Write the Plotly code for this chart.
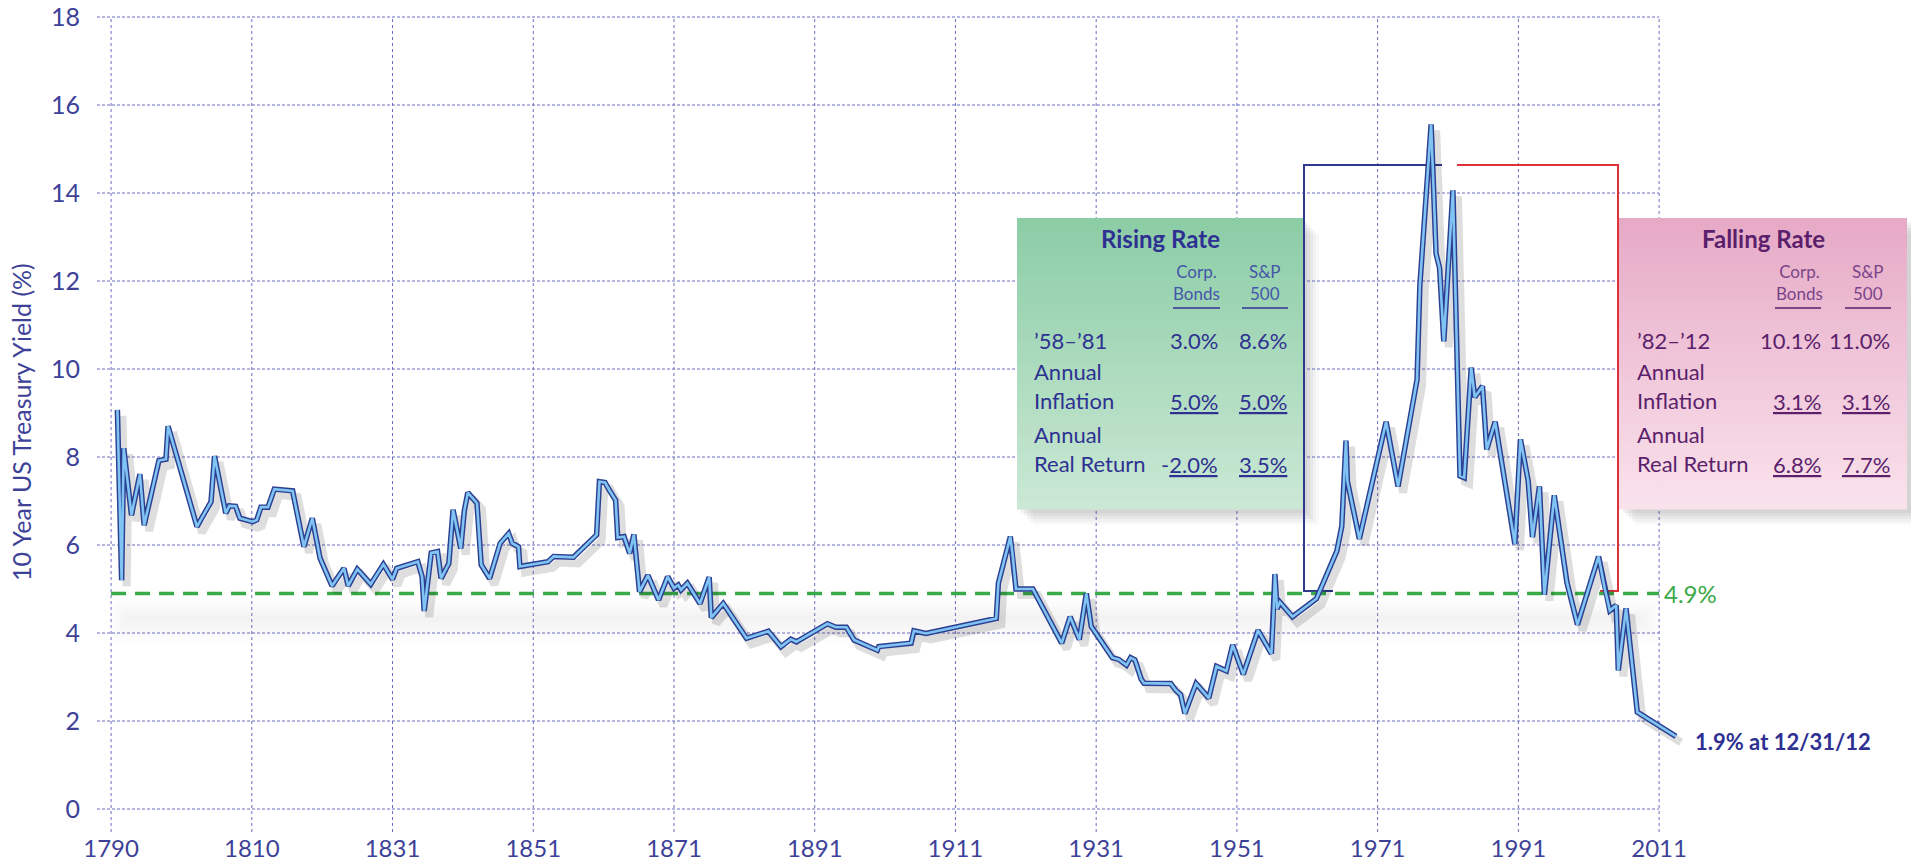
import plotly.graph_objects as go

# ---------------- data ----------------
years = [1790.9, 1791.5, 1791.8, 1792.9, 1794.1, 1794.7, 1796.8, 1797.8, 1798.1, 1802.2,
         1804.2, 1804.7, 1806.3, 1806.8, 1807.7, 1808.3, 1810.1, 1810.7, 1811.3, 1812.3,
         1813.2, 1815.8, 1817.4, 1818.6, 1819.7, 1821.4, 1823.1, 1823.7, 1825.0, 1826.9,
         1828.7, 1830.0, 1830.6, 1833.6, 1834.2, 1834.5, 1835.5, 1836.4, 1836.9, 1838.0,
         1838.6, 1839.7, 1840.2, 1840.7, 1842.0, 1842.6, 1843.8, 1845.3, 1846.5, 1847.0,
         1847.9, 1848.1, 1852.1, 1852.9, 1855.7, 1857.3, 1859.0, 1859.4, 1860.2, 1860.8,
         1861.7, 1862.0, 1862.9, 1863.7, 1864.3, 1865.1, 1866.3, 1867.8, 1869.1, 1870.0,
         1870.6, 1871.0, 1871.9, 1873.7, 1875.0, 1875.3, 1877.0, 1880.3, 1883.4, 1885.2,
         1886.6, 1887.4, 1891.8, 1893.0, 1894.5, 1895.6, 1898.9, 1899.1, 1903.7, 1904.1,
         1905.8, 1915.8, 1916.1, 1917.8, 1918.1, 1918.6, 1921.0, 1925.1, 1926.3, 1927.6,
         1928.6, 1929.3, 1932.3, 1933.2, 1934.3, 1934.9, 1935.5, 1936.4, 1936.8, 1940.6,
         1941.3, 1942.0, 1942.6, 1944.2, 1946.0, 1947.1, 1948.5, 1949.4, 1950.9, 1953.0,
         1954.9, 1955.2, 1955.4, 1955.7, 1956.1, 1957.9, 1961.3, 1964.2, 1964.9, 1965.5,
         1965.7, 1967.4, 1971.2, 1972.9, 1975.6, 1976.0, 1977.6, 1978.3, 1978.8, 1979.4,
         1980.7, 1981.7, 1982.3, 1983.3, 1983.8, 1984.9, 1985.5, 1986.7, 1989.5, 1990.3,
         1991.4, 1992.0, 1993.0, 1993.7, 1995.1, 1996.9, 1998.4, 2001.4, 2002.3, 2003.0,
         2003.9, 2004.2, 2005.3, 2006.9, 2012.4]
yields = [9.07, 5.20, 8.20, 6.68, 7.61, 6.45, 7.92, 7.95, 8.70, 6.42,
          6.98, 8.02, 6.72, 6.89, 6.88, 6.61, 6.53, 6.57, 6.86, 6.86,
          7.27, 7.23, 5.96, 6.61, 5.70, 5.07, 5.47, 5.07, 5.45, 5.11,
          5.56, 5.22, 5.47, 5.62, 5.28, 4.50, 5.82, 5.85, 5.24, 5.58,
          6.80, 5.92, 6.78, 7.19, 6.95, 5.55, 5.24, 6.04, 6.26, 6.04,
          5.96, 5.51, 5.62, 5.74, 5.72, 5.96, 6.23, 7.44, 7.42, 7.25,
          7.02, 6.17, 6.19, 5.81, 6.24, 4.94, 5.31, 4.75, 5.28, 5.02,
          5.09, 4.98, 5.13, 4.67, 5.27, 4.35, 4.67, 3.88, 4.04, 3.69,
          3.86, 3.80, 4.21, 4.13, 4.13, 3.84, 3.61, 3.69, 3.77, 4.05,
          3.99, 4.33, 5.13, 6.19, 5.81, 5.00, 5.00, 3.77, 4.37, 3.85,
          4.90, 4.15, 3.44, 3.40, 3.27, 3.44, 3.39, 2.95, 2.86, 2.85,
          2.70, 2.60, 2.17, 2.85, 2.52, 3.24, 3.14, 3.73, 3.06, 4.06,
          3.53, 4.45, 5.34, 4.55, 4.70, 4.37, 4.78, 5.86, 6.42, 8.37,
          7.45, 6.14, 8.80, 7.33, 9.76, 11.90, 15.56, 12.62, 12.30, 10.63,
          14.06, 7.57, 7.53, 10.03, 9.36, 9.61, 8.17, 8.80, 6.02, 8.40,
          7.45, 6.18, 7.33, 4.87, 7.13, 5.15, 4.19, 5.74, 4.99, 4.51,
          4.63, 3.15, 4.56, 2.20, 1.65]

x_tick_pos = [1790, 1810, 1830, 1850, 1870, 1890, 1910, 1930, 1950, 1970, 1990, 2010]
x_tick_text = ["1790", "1810", "1831", "1851", "1871", "1891", "1911", "1931",
               "1951", "1971", "1991", "2011"]
y_ticks = [0, 2, 4, 6, 8, 10, 12, 14, 16, 18]
average_yield = 4.9
average_label = "4.9%"
end_label = "1.9% at 12/31/12"
y_title = "10 Year US Treasury Yield (%)"

col_heads = ["Corp.<br>Bonds", "S&amp;P<br>500"]
rising_title = "Rising Rate"
rising_rows = ["\u201958\u2013\u201981", "Annual<br>Inflation", "Annual<br>Real Return"]
rising_bonds = ["3.0%", "<u>5.0%</u>", "-<u>2.0%</u>"]
rising_sp = ["8.6%", "<u>5.0%</u>", "<u>3.5%</u>"]
falling_title = "Falling Rate"
falling_rows = ["\u201982\u2013\u201912", "Annual<br>Inflation", "Annual<br>Real Return"]
falling_bonds = ["10.1%", "<u>3.1%</u>", "<u>6.8%</u>"]
falling_sp = ["11.0%", "<u>3.1%</u>", "<u>7.7%</u>"]

# ---------------- layout geometry ----------------
W, H = 1911, 868
L, T, B = 97, 13, 36
PX_PER_X = 140.73 / 20.0
PX_PER_Y = 44.0
X0 = 1788.0
X1 = X0 + (W - L) / PX_PER_X
Y_TOP = 18.0 + (17 - T) / PX_PER_Y
Y_BOT = Y_TOP - (H - T - B) / PX_PER_Y


def X(px):
    return X0 + (px - L) / PX_PER_X


def Y(py):
    return Y_TOP - (py - T) / PX_PER_Y


FONT = "Lato, 'Open Sans', sans-serif"
AX_COL = "#3d4298"
GRID_COL = "#6a6dc0"
NAVY = "#2e3192"
PURPLE = "#5b1f6b"
GREEN = "#3aaa48"

shapes = []

# soft shadow band under the average line
for k in range(6):
    shapes.append(dict(type="rect", xref="x", yref="y", layer="below",
                       x0=X(111 + 3 * k), x1=X(1659 - 3 * k), y0=Y(600 + 3 * k), y1=Y(642 - 4 * k),
                       line=dict(width=0), fillcolor="rgba(0,0,0,0.006)"))

# gridlines
for v in y_ticks:
    shapes.append(dict(type="line", xref="x", yref="y", layer="below",
                       x0=X0, x1=x_tick_pos[-1], y0=v, y1=v,
                       line=dict(color=GRID_COL, width=1, dash="3px,2px")))
for t in x_tick_pos:
    shapes.append(dict(type="line", xref="x", yref="y", layer="below",
                       x0=t, x1=t, y0=Y_BOT, y1=18,
                       line=dict(color=GRID_COL, width=1, dash="3px,3px")))


def panel(px0, px1, py0, py1, top_rgb, bot_rgb):
    # shadow
    for off, a in [(16, 0.03), (13, 0.04), (10, 0.05), (7, 0.06), (4, 0.06)]:
        shapes.append(dict(type="rect", xref="x", yref="y", layer="below",
                           x0=X(px0 + off), x1=X(px1 + off), y0=Y(py0 + off), y1=Y(py1 + off),
                           line=dict(width=0), fillcolor=f"rgba(60,60,60,{a})"))
    n = 40
    for i in range(n):
        f = i / (n - 1)
        c = tuple(int(round(top_rgb[j] + (bot_rgb[j] - top_rgb[j]) * f)) for j in range(3))
        ya = py0 + (py1 - py0) * i / n
        yb = py0 + (py1 - py0) * (i + 1) / n + 0.6
        shapes.append(dict(type="rect", xref="x", yref="y", layer="below",
                           x0=X(px0), x1=X(px1), y0=Y(ya), y1=Y(yb),
                           line=dict(width=0), fillcolor=f"rgb{c}"))


panel(1017, 1303, 218, 509, (140, 205, 166), (202, 232, 212))
panel(1619, 1907, 218, 509, (230, 170, 198), (250, 226, 236))


# bracket lines
def path(pts):
    return "M " + " L ".join(f"{X(a)},{Y(b)}" for a, b in pts)


shapes.append(dict(type="path", xref="x", yref="y", layer="below",
                   path=path([(1333, 591), (1304, 591), (1304, 165), (1442, 165)]),
                   line=dict(color="#2e3a8c", width=2)))
shapes.append(dict(type="path", xref="x", yref="y", layer="below",
                   path=path([(1457, 165), (1618, 165), (1618, 591), (1600, 591)]),
                   line=dict(color="#e0303a", width=2)))

# underlines of column heads
for (a, b) in [(1173, 1220), (1242, 1288), (1775, 1821), (1845, 1891)]:
    col = NAVY if a < 1500 else PURPLE
    shapes.append(dict(type="line", xref="x", yref="y", layer="above",
                       x0=X(a), x1=X(b), y0=Y(308), y1=Y(308),
                       line=dict(color=col, width=1.5)))

# average line
shapes.append(dict(type="line", xref="x", yref="y", layer="below",
                   x0=1790, x1=x_tick_pos[-1], y0=average_yield, y1=average_yield,
                   line=dict(color=GREEN, width=3.5, dash="15px,9px")))

fig = go.Figure()
dx = 5 / PX_PER_X
dy = 6 / PX_PER_Y
fig.add_trace(go.Scatter(x=[v + dx for v in years], y=[v - dy for v in yields], mode="lines",
                         line=dict(color="rgba(0,0,0,0.13)", width=8), hoverinfo="skip",
                         showlegend=False))
fig.add_trace(go.Scatter(x=years, y=yields, mode="lines",
                         line=dict(color="#2c3f91", width=5.5), showlegend=False))
fig.add_trace(go.Scatter(x=years, y=yields, mode="lines",
                         line=dict(color="#7fc4f3", width=2.6), showlegend=False))

ann = []


def text(px, py, s, size, color, xanchor="center", bold=False):
    ann.append(dict(x=X(px), y=Y(py), xref="x", yref="y", text=(f"<b>{s}</b>" if bold else s),
                    showarrow=False, xanchor=xanchor, yanchor="middle",
                    align=xanchor if xanchor != "center" else "center",
                    font=dict(family=FONT, size=size, color=color), borderpad=0))


def panel_text(dx_px, title, rows, bonds, sp, col, sub_col):
    text(1160 + dx_px, 238, title, 24, col, bold=True)
    text(1196 + dx_px, 282, col_heads[0], 17, sub_col)
    text(1265 + dx_px, 282, col_heads[1], 17, sub_col)
    ys = [340, 386, 449]
    vys = [340, 401, 464]
    for r, b, s, y0, vy in zip(rows, bonds, sp, ys, vys):
        text(1033 + dx_px, y0, r, 22, col, xanchor="left")
        text(1219 + dx_px, vy, b, 22, col, xanchor="right")
        text(1288 + dx_px, vy, s, 22, col, xanchor="right")


panel_text(0, rising_title, rising_rows, rising_bonds, rising_sp, NAVY, "#4556a8")
panel_text(603, falling_title, falling_rows, falling_bonds, falling_sp, PURPLE, "#7a4489")

text(1663, 593, average_label, 24, GREEN, xanchor="left")
text(1694, 741, end_label, 22, NAVY, xanchor="left", bold=True)

ann.append(dict(x=(21 - L) / (W - L), y=Y(422), xref="paper", yref="y", text=y_title,
                textangle=-90, showarrow=False, xanchor="center", yanchor="middle",
                font=dict(family=FONT, size=25, color=AX_COL)))

fig.update_layout(
    width=W, height=H,
    margin=dict(l=L, r=0, t=T, b=B, pad=0, autoexpand=False),
    paper_bgcolor="white", plot_bgcolor="white",
    shapes=shapes, annotations=ann,
    xaxis=dict(range=[X0, X1], tickmode="array", tickvals=x_tick_pos, ticktext=x_tick_text,
               showgrid=False, zeroline=False, showline=False, ticks="", automargin=False,
               tickfont=dict(family=FONT, size=24, color=AX_COL)),
    yaxis=dict(range=[Y_BOT, Y_TOP], tickmode="array", tickvals=y_ticks, automargin=False,
               showgrid=False, zeroline=False, showline=False, ticks="outside", ticklen=11,
               tickcolor="rgba(0,0,0,0)", tickfont=dict(family=FONT, size=25, color=AX_COL)),
    showlegend=False,
)
# the page's default body margin would offset the fixed-size figure by 8px
fig.write_html("out.html", config={"displayModeBar": False},
               post_script="document.body.style.margin='0';")
